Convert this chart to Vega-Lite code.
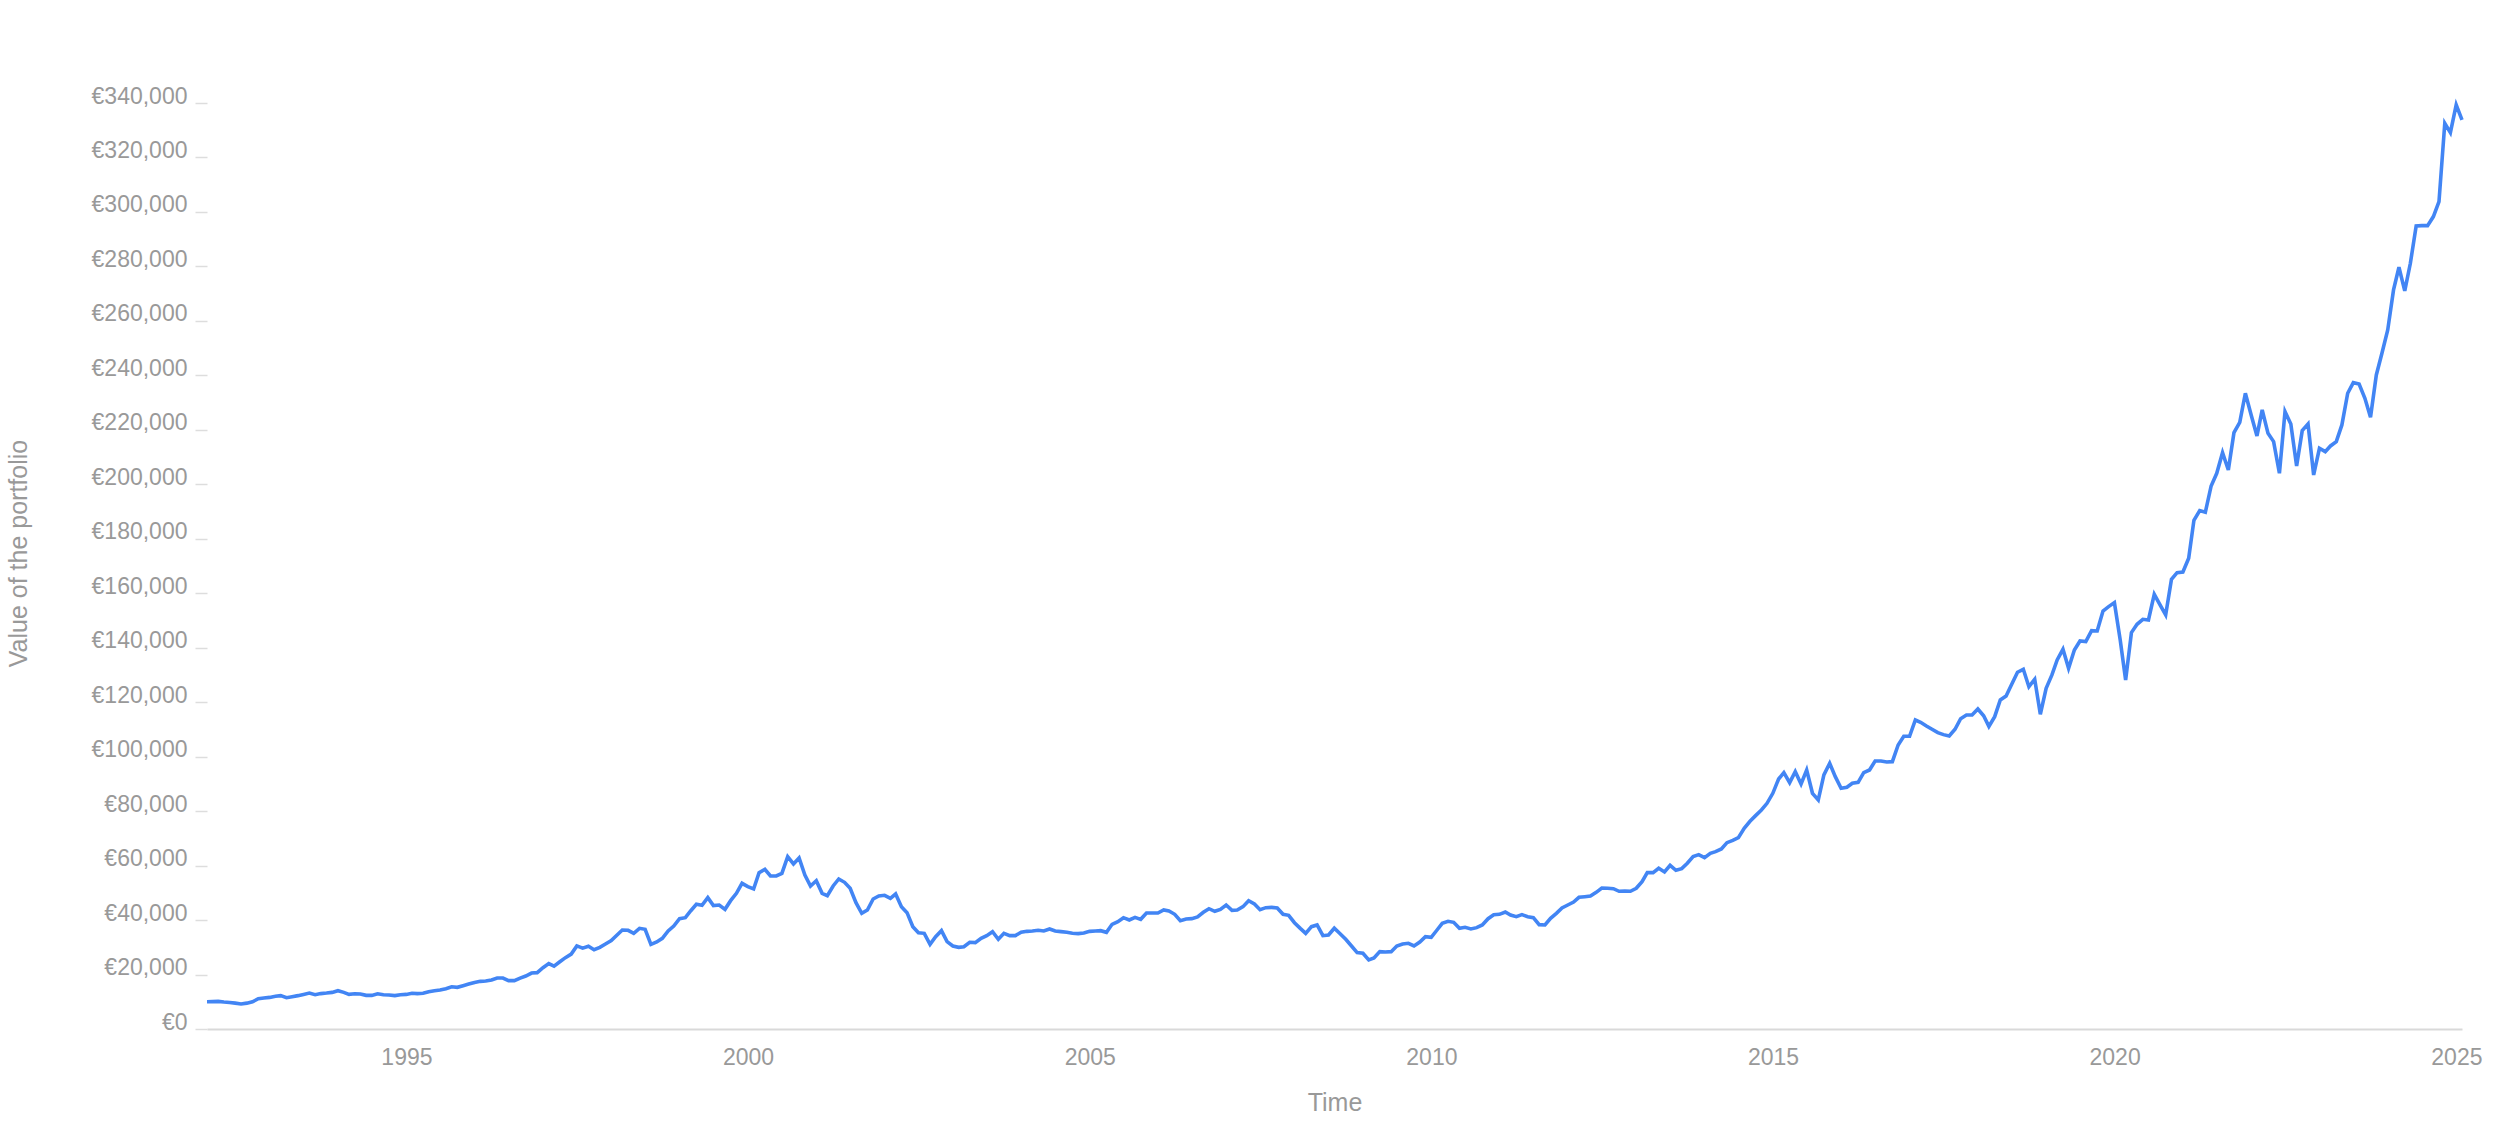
{
"$schema": "https://vega.github.io/schema/vega-lite/v6.json",
"width": 2255,
"height": 926,
"autosize": {"type": "none"},
"padding": {"left": 207, "top": 103, "right": 38, "bottom": 116},
"background": "white",
"config": {"view": {"stroke": null}, "font": "Liberation Sans"},
"data": {"values": [
{"date":"1992-01-31","value":10000},{"date":"1992-02-29","value":10050},{"date":"1992-03-31","value":10150},{"date":"1992-04-30","value":9900},{"date":"1992-05-31","value":9700},{"date":"1992-06-30","value":9500},{"date":"1992-07-31","value":9200},{"date":"1992-08-31","value":9500},{"date":"1992-09-30","value":10000},{"date":"1992-10-31","value":11100},{"date":"1992-11-30","value":11400},{"date":"1992-12-31","value":11600},
{"date":"1993-01-31","value":12000},{"date":"1993-02-28","value":12250},{"date":"1993-03-31","value":11500},{"date":"1993-04-30","value":11850},{"date":"1993-05-31","value":12250},{"date":"1993-06-30","value":12700},{"date":"1993-07-31","value":13200},{"date":"1993-08-31","value":12600},{"date":"1993-09-30","value":13000},{"date":"1993-10-31","value":13200},{"date":"1993-11-30","value":13450},{"date":"1993-12-31","value":14050},
{"date":"1994-01-31","value":13450},{"date":"1994-02-28","value":12700},{"date":"1994-03-31","value":12950},{"date":"1994-04-30","value":12850},{"date":"1994-05-31","value":12350},{"date":"1994-06-30","value":12350},{"date":"1994-07-31","value":12950},{"date":"1994-08-31","value":12600},{"date":"1994-09-30","value":12500},{"date":"1994-10-31","value":12250},{"date":"1994-11-30","value":12600},{"date":"1994-12-31","value":12700},
{"date":"1995-01-31","value":13100},{"date":"1995-02-28","value":13000},{"date":"1995-03-31","value":13100},{"date":"1995-04-30","value":13700},{"date":"1995-05-31","value":14050},{"date":"1995-06-30","value":14300},{"date":"1995-07-31","value":14800},{"date":"1995-08-31","value":15500},{"date":"1995-09-30","value":15300},{"date":"1995-10-31","value":15900},{"date":"1995-11-30","value":16500},{"date":"1995-12-31","value":17100},
{"date":"1996-01-31","value":17500},{"date":"1996-02-29","value":17600},{"date":"1996-03-31","value":18000},{"date":"1996-04-30","value":18700},{"date":"1996-05-31","value":18700},{"date":"1996-06-30","value":17750},{"date":"1996-07-31","value":17750},{"date":"1996-08-31","value":18700},{"date":"1996-09-30","value":19450},{"date":"1996-10-31","value":20550},{"date":"1996-11-30","value":20700},{"date":"1996-12-31","value":22500},
{"date":"1997-01-31","value":24000},{"date":"1997-02-28","value":23100},{"date":"1997-03-31","value":24700},{"date":"1997-04-30","value":26200},{"date":"1997-05-31","value":27500},{"date":"1997-06-30","value":30500},{"date":"1997-07-31","value":29700},{"date":"1997-08-31","value":30400},{"date":"1997-09-30","value":29130},{"date":"1997-10-31","value":29990},{"date":"1997-11-30","value":31210},{"date":"1997-12-31","value":32440},
{"date":"1998-01-31","value":34520},{"date":"1998-02-28","value":36350},{"date":"1998-03-31","value":36230},{"date":"1998-04-30","value":35130},{"date":"1998-05-31","value":36960},{"date":"1998-06-30","value":36590},{"date":"1998-07-31","value":31090},{"date":"1998-08-31","value":31950},{"date":"1998-09-30","value":33290},{"date":"1998-10-31","value":35990},{"date":"1998-11-30","value":37820},{"date":"1998-12-31","value":40510},
{"date":"1999-01-31","value":40880},{"date":"1999-02-28","value":43330},{"date":"1999-03-31","value":45780},{"date":"1999-04-30","value":45410},{"date":"1999-05-31","value":48230},{"date":"1999-06-30","value":45290},{"date":"1999-07-31","value":45530},{"date":"1999-08-31","value":43940},{"date":"1999-09-30","value":47120},{"date":"1999-10-31","value":49820},{"date":"1999-11-30","value":53490},{"date":"1999-12-31","value":52260},
{"date":"2000-01-31","value":51410},{"date":"2000-02-29","value":57410},{"date":"2000-03-31","value":58630},{"date":"2000-04-30","value":56180},{"date":"2000-05-31","value":56180},{"date":"2000-06-30","value":57160},{"date":"2000-07-31","value":63280},{"date":"2000-08-31","value":60590},{"date":"2000-09-30","value":62790},{"date":"2000-10-31","value":56550},{"date":"2000-11-30","value":52510},{"date":"2000-12-31","value":54470},
{"date":"2001-01-31","value":49820},{"date":"2001-02-28","value":48960},{"date":"2001-03-31","value":52510},{"date":"2001-04-30","value":55080},{"date":"2001-05-31","value":53860},{"date":"2001-06-30","value":51660},{"date":"2001-07-31","value":46390},{"date":"2001-08-31","value":42470},{"date":"2001-09-30","value":43700},{"date":"2001-10-31","value":47740},{"date":"2001-11-30","value":48840},{"date":"2001-12-31","value":49080},
{"date":"2002-01-31","value":47980},{"date":"2002-02-28","value":49570},{"date":"2002-03-31","value":44920},{"date":"2002-04-30","value":42720},{"date":"2002-05-31","value":37580},{"date":"2002-06-30","value":35370},{"date":"2002-07-31","value":35130},{"date":"2002-08-31","value":31090},{"date":"2002-09-30","value":33900},{"date":"2002-10-31","value":36110},{"date":"2002-11-30","value":32070},{"date":"2002-12-31","value":30480},
{"date":"2003-01-31","value":29990},{"date":"2003-02-28","value":30230},{"date":"2003-03-31","value":31830},{"date":"2003-04-30","value":31700},{"date":"2003-05-31","value":33290},{"date":"2003-06-30","value":34270},{"date":"2003-07-31","value":35740},{"date":"2003-08-31","value":32930},{"date":"2003-09-30","value":35130},{"date":"2003-10-31","value":34270},{"date":"2003-11-30","value":34270},{"date":"2003-12-31","value":35500},
{"date":"2004-01-31","value":35860},{"date":"2004-02-29","value":35990},{"date":"2004-03-31","value":36230},{"date":"2004-04-30","value":35990},{"date":"2004-05-31","value":36720},{"date":"2004-06-30","value":35990},{"date":"2004-07-31","value":35740},{"date":"2004-08-31","value":35500},{"date":"2004-09-30","value":35130},{"date":"2004-10-31","value":35010},{"date":"2004-11-30","value":35250},{"date":"2004-12-31","value":35860},
{"date":"2005-01-31","value":35990},{"date":"2005-02-28","value":36110},{"date":"2005-03-31","value":35500},{"date":"2005-04-30","value":38430},{"date":"2005-05-31","value":39410},{"date":"2005-06-30","value":40880},{"date":"2005-07-31","value":40030},{"date":"2005-08-31","value":41000},{"date":"2005-09-30","value":40270},{"date":"2005-10-31","value":42600},{"date":"2005-11-30","value":42600},{"date":"2005-12-31","value":42600},
{"date":"2006-01-31","value":43700},{"date":"2006-02-28","value":43330},{"date":"2006-03-31","value":42110},{"date":"2006-04-30","value":39780},{"date":"2006-05-31","value":40390},{"date":"2006-06-30","value":40510},{"date":"2006-07-31","value":41130},{"date":"2006-08-31","value":42840},{"date":"2006-09-30","value":44180},{"date":"2006-10-31","value":43210},{"date":"2006-11-30","value":43940},{"date":"2006-12-31","value":45530},
{"date":"2007-01-31","value":43570},{"date":"2007-02-28","value":43700},{"date":"2007-03-31","value":44920},{"date":"2007-04-30","value":47120},{"date":"2007-05-31","value":45900},{"date":"2007-06-30","value":43820},{"date":"2007-07-31","value":44550},{"date":"2007-08-31","value":44670},{"date":"2007-09-30","value":44430},{"date":"2007-10-31","value":42110},{"date":"2007-11-30","value":41740},{"date":"2007-12-31","value":39040},
{"date":"2008-01-31","value":36960},{"date":"2008-02-29","value":35130},{"date":"2008-03-31","value":37580},{"date":"2008-04-30","value":38190},{"date":"2008-05-31","value":34270},{"date":"2008-06-30","value":34500},{"date":"2008-07-31","value":37000},{"date":"2008-08-31","value":35000},{"date":"2008-09-30","value":32930},{"date":"2008-10-31","value":30480},{"date":"2008-11-30","value":28030},{"date":"2008-12-31","value":27790},
{"date":"2009-01-31","value":25340},{"date":"2009-02-28","value":26070},{"date":"2009-03-31","value":28400},{"date":"2009-04-30","value":28280},{"date":"2009-05-31","value":28400},{"date":"2009-06-30","value":30480},{"date":"2009-07-31","value":31210},{"date":"2009-08-31","value":31460},{"date":"2009-09-30","value":30480},{"date":"2009-10-31","value":31950},{"date":"2009-11-30","value":33900},{"date":"2009-12-31","value":33660},
{"date":"2010-01-31","value":36350},{"date":"2010-02-28","value":38800},{"date":"2010-03-31","value":39540},{"date":"2010-04-30","value":39170},{"date":"2010-05-31","value":36960},{"date":"2010-06-30","value":37330},{"date":"2010-07-31","value":36720},{"date":"2010-08-31","value":37210},{"date":"2010-09-30","value":38190},{"date":"2010-10-31","value":40510},{"date":"2010-11-30","value":41980},{"date":"2010-12-31","value":42100},
{"date":"2011-01-31","value":42960},{"date":"2011-02-28","value":41860},{"date":"2011-03-31","value":41250},{"date":"2011-04-30","value":41980},{"date":"2011-05-31","value":41250},{"date":"2011-06-30","value":40880},{"date":"2011-07-31","value":38310},{"date":"2011-08-31","value":38190},{"date":"2011-09-30","value":40630},{"date":"2011-10-31","value":42470},{"date":"2011-11-30","value":44430},{"date":"2011-12-31","value":45530},
{"date":"2012-01-31","value":46630},{"date":"2012-02-29","value":48350},{"date":"2012-03-31","value":48590},{"date":"2012-04-30","value":48840},{"date":"2012-05-31","value":50190},{"date":"2012-06-30","value":51780},{"date":"2012-07-31","value":51660},{"date":"2012-08-31","value":51530},{"date":"2012-09-30","value":50560},{"date":"2012-10-31","value":50680},{"date":"2012-11-30","value":50560},{"date":"2012-12-31","value":51660},
{"date":"2013-01-31","value":54100},{"date":"2013-02-28","value":57410},{"date":"2013-03-31","value":57410},{"date":"2013-04-30","value":59000},{"date":"2013-05-31","value":57650},{"date":"2013-06-30","value":60100},{"date":"2013-07-31","value":58260},{"date":"2013-08-31","value":58880},{"date":"2013-09-30","value":60840},{"date":"2013-10-31","value":63280},{"date":"2013-11-30","value":64010},{"date":"2013-12-31","value":62910},
{"date":"2014-01-31","value":64500},{"date":"2014-02-28","value":65110},{"date":"2014-03-31","value":66100},{"date":"2014-04-30","value":68420},{"date":"2014-05-31","value":69280},{"date":"2014-06-30","value":70260},{"date":"2014-07-31","value":73690},{"date":"2014-08-31","value":76260},{"date":"2014-09-30","value":78340},{"date":"2014-10-31","value":80420},{"date":"2014-11-30","value":82870},{"date":"2014-12-31","value":86540},
{"date":"2015-01-31","value":91800},{"date":"2015-02-28","value":94130},{"date":"2015-03-31","value":90450},{"date":"2015-04-30","value":94500},{"date":"2015-05-31","value":89960},{"date":"2015-06-30","value":95100},{"date":"2015-07-31","value":86540},{"date":"2015-08-31","value":84090},{"date":"2015-09-30","value":93270},{"date":"2015-10-31","value":97560},{"date":"2015-11-30","value":92650},{"date":"2015-12-31","value":88370},
{"date":"2016-01-31","value":88740},{"date":"2016-02-29","value":90210},{"date":"2016-03-31","value":90580},{"date":"2016-04-30","value":94130},{"date":"2016-05-31","value":95100},{"date":"2016-06-30","value":98410},{"date":"2016-07-31","value":98410},{"date":"2016-08-31","value":98040},{"date":"2016-09-30","value":98160},{"date":"2016-10-31","value":104280},{"date":"2016-11-30","value":107470},{"date":"2016-12-31","value":107470},
{"date":"2017-01-31","value":113460},{"date":"2017-02-28","value":112600},{"date":"2017-03-31","value":111260},{"date":"2017-04-30","value":110040},{"date":"2017-05-31","value":108820},{"date":"2017-06-30","value":108080},{"date":"2017-07-31","value":107590},{"date":"2017-08-31","value":110040},{"date":"2017-09-30","value":113950},{"date":"2017-10-31","value":115300},{"date":"2017-11-30","value":115300},{"date":"2017-12-31","value":117500},
{"date":"2018-01-31","value":115000},{"date":"2018-02-28","value":111100},{"date":"2018-03-31","value":114690},{"date":"2018-04-30","value":120810},{"date":"2018-05-31","value":122280},{"date":"2018-06-30","value":126570},{"date":"2018-07-31","value":130980},{"date":"2018-08-31","value":132080},{"date":"2018-09-30","value":125690},{"date":"2018-10-31","value":128410},{"date":"2018-11-30","value":115560},{"date":"2018-12-31","value":125100},
{"date":"2019-01-31","value":129990},{"date":"2019-02-28","value":135500},{"date":"2019-03-31","value":139420},{"date":"2019-04-30","value":132450},{"date":"2019-05-31","value":139170},{"date":"2019-06-30","value":142470},{"date":"2019-07-31","value":142230},{"date":"2019-08-31","value":146270},{"date":"2019-09-30","value":146150},{"date":"2019-10-31","value":153490},{"date":"2019-11-30","value":155080},{"date":"2019-12-31","value":156550},
{"date":"2020-01-31","value":142840},{"date":"2020-02-29","value":128150},{"date":"2020-03-31","value":145540},{"date":"2020-04-30","value":148600},{"date":"2020-05-31","value":150440},{"date":"2020-06-30","value":150200},{"date":"2020-07-31","value":159610},{"date":"2020-08-31","value":155690},{"date":"2020-09-30","value":152020},{"date":"2020-10-31","value":165110},{"date":"2020-11-30","value":167560},{"date":"2020-12-31","value":167810},
{"date":"2021-01-31","value":172830},{"date":"2021-02-28","value":186800},{"date":"2021-03-31","value":190330},{"date":"2021-04-30","value":189720},{"date":"2021-05-31","value":199390},{"date":"2021-06-30","value":204040},{"date":"2021-07-31","value":211620},{"date":"2021-08-31","value":205260},{"date":"2021-09-30","value":218960},{"date":"2021-10-31","value":222770},{"date":"2021-11-30","value":233420},{"date":"2021-12-31","value":225460},
{"date":"2022-01-31","value":217750},{"date":"2022-02-28","value":227300},{"date":"2022-03-31","value":218720},{"date":"2022-04-30","value":215670},{"date":"2022-05-31","value":204040},{"date":"2022-06-30","value":226690},{"date":"2022-07-31","value":222160},{"date":"2022-08-31","value":206730},{"date":"2022-09-30","value":219700},{"date":"2022-10-31","value":222160},{"date":"2022-11-30","value":203430},{"date":"2022-12-31","value":213220},
{"date":"2023-01-31","value":211990},{"date":"2023-02-28","value":214080},{"date":"2023-03-31","value":215670},{"date":"2023-04-30","value":221790},{"date":"2023-05-31","value":233420},{"date":"2023-06-30","value":237330},{"date":"2023-07-31","value":236840},{"date":"2023-08-31","value":231580},{"date":"2023-09-30","value":224610},{"date":"2023-10-31","value":240150},{"date":"2023-11-30","value":248110},{"date":"2023-12-31","value":256670},
{"date":"2024-01-31","value":271360},{"date":"2024-02-29","value":279690},{"date":"2024-03-31","value":271000},{"date":"2024-04-30","value":281160},{"date":"2024-05-31","value":294860},{"date":"2024-06-30","value":294980},{"date":"2024-07-31","value":294980},{"date":"2024-08-31","value":298290},{"date":"2024-09-30","value":303790},{"date":"2024-10-31","value":332570},{"date":"2024-11-30","value":329140},{"date":"2024-12-31","value":339290},
{"date":"2025-01-31","value":333780}
]},
"mark": {"type": "line", "color": "#4285F4", "strokeWidth": 3.6},
"encoding": {
  "x": {
    "field": "date", "type": "temporal", "title": "Time",
    "scale": {"nice": false},
    "axis": {
      "values": [{"year": 1995}, {"year": 2000}, {"year": 2005}, {"year": 2010}, {"year": 2015}, {"year": 2020}, {"year": 2025}],
      "format": "%Y",
      "grid": false, "ticks": false,
      "domainColor": "#d9d9d9", "domainWidth": 2,
      "labelFont": "Liberation Sans", "labelFontSize": 23, "labelColor": "#999999",
      "labelBaseline": "alphabetic", "labelPadding": 35, "labelFlush": false, "labelOverlap": false,
      "titleFont": "Liberation Sans", "titleFontSize": 25, "titleColor": "#999999", "titleFontWeight": "normal",
      "titleBaseline": "alphabetic", "titleY": 81
    }
  },
  "y": {
    "field": "value", "type": "quantitative", "title": "Value of the portfolio",
    "scale": {"domain": [0, 340000], "nice": false},
    "axis": {
      "values": [0, 20000, 40000, 60000, 80000, 100000, 120000, 140000, 160000, 180000, 200000, 220000, 240000, 260000, 280000, 300000, 320000, 340000],
      "labelExpr": "'€' + format(datum.value, ',')",
      "grid": false, "domain": false,
      "tickSize": 12, "tickColor": "#dddddd", "tickWidth": 1.5,
      "labelFont": "Liberation Sans", "labelFontSize": 23, "labelColor": "#999999",
      "labelPadding": 8, "labelOffset": -7,
      "titleFont": "Liberation Sans", "titleFontSize": 25, "titleColor": "#999999", "titleFontWeight": "normal",
      "titleAngle": 270, "titleBaseline": "alphabetic", "titleX": -181, "titleY": 450
    }
  }
}
}
